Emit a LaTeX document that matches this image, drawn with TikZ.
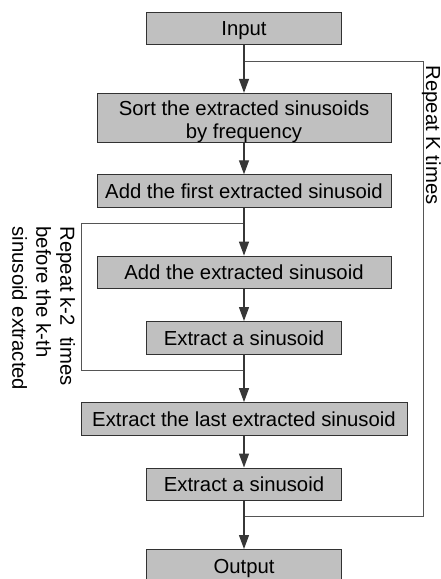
\documentclass[tikz,border=0pt]{standalone}
\usepackage{fontspec}
\setmainfont{Liberation Sans}
\usetikzlibrary{arrows.meta}
\definecolor{boxfill}{RGB}{192,192,192}
\definecolor{boxline}{RGB}{50,50,50}
\definecolor{connline}{RGB}{55,55,55}
\definecolor{loopline}{RGB}{85,85,85}
\begin{document}
\begin{tikzpicture}[x=1pt,y=1pt,
  stepbox/.style={draw=boxline, line width=0.9pt, fill=boxfill, inner sep=0pt,
    font=\fontsize{20.3}{23.3}\selectfont, text height=14.6pt, text depth=0pt,
    minimum height=32.5pt},
  txt/.style={font=\fontsize{20.3}{23.3}\selectfont, inner sep=0pt, anchor=base},
  conn/.style={draw=connline, line width=1.3pt, -{Triangle[width=10pt,length=14pt]}},
  loopl/.style={draw=loopline, line width=1pt},
  lbl/.style={font=\fontsize{20.3}{24}\selectfont, inner sep=0pt, rotate=-90, anchor=base west, align=left}
]
\useasboundingbox (0,0) rectangle (441,-579);
\clip (0,0) rectangle (441,-579);
\node[stepbox, minimum width=195pt] (input) at (244,-28.3) {Input};
\node[stepbox, minimum width=294pt, minimum height=49pt] (sort) at (244,-117.8) {};
\node[txt] (sortA) at (244,-115) {Sort the extracted sinusoids};
\node[txt] (sortB) at (244,-138.3) {by frequency};
\node[stepbox, minimum width=294pt] (addfirst) at (244,-191) {Add the first extracted sinusoid};
\node[stepbox, minimum width=294pt] (addext) at (244,-272.3) {Add the extracted sinusoid};
\node[stepbox, minimum width=195pt] (extr1) at (244,-337.7) {Extract a sinusoid};
\node[stepbox, minimum width=326pt] (extrlast) at (244,-418.8) {Extract the last extracted sinusoid};
\node[stepbox, minimum width=195pt] (extr2) at (244,-484.2) {Extract a sinusoid};
\node[stepbox, minimum width=195pt] (output) at (244,-565.7) {Output};

\coordinate (jtop) at (244,-61);
\coordinate (jr1) at (423,-61);
\coordinate (jr2) at (423,-516.7);
\coordinate (jbot) at (244,-516.7);
\coordinate (ktop) at (244,-223.7);
\coordinate (kl1) at (81,-223.7);
\coordinate (kl2) at (81,-370);
\coordinate (kbot) at (244,-370);

\draw[loopl] (jbot) -- (jr2) -- (jr1) -- (jtop);
\draw[loopl] (kbot) -- (kl2) -- (kl1) -- (ktop);

\draw[conn] (input) -- (sort);
\draw[conn] (sort) -- (addfirst);
\draw[conn] (addfirst) -- (addext);
\draw[conn] (addext) -- (extr1);
\draw[conn] (extr1) -- (extrlast);
\draw[conn] (extrlast) -- (extr2);
\draw[conn] (extr2) -- (output);

\node[lbl] (repK) at (426,-65.5) {Repeat K times};
\node[lbl] (repk2) at (12.3,-226.5) {Repeat k-2\ \ times\\before the k-th\\sinusoid extracted};
\end{tikzpicture}
\end{document}
